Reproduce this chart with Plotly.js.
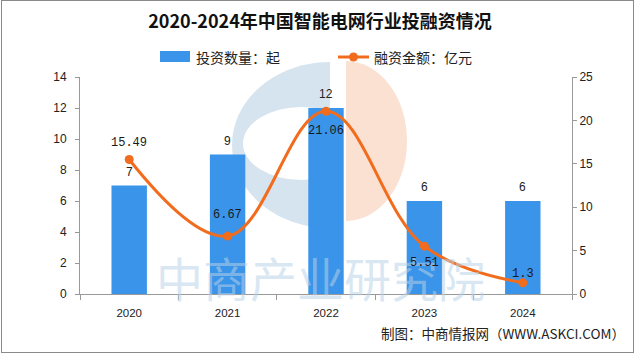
<!DOCTYPE html>
<html><head><meta charset="utf-8">
<script src="https://cdn.plot.ly/plotly-3.0.1.min.js"></script>
<style>
html,body{margin:0;padding:0;background:#fff;}
#wrap{position:relative;width:640px;height:355px;}
#chart{width:640px;height:355px;}
#frame{position:absolute;left:1px;top:0px;width:631px;height:351px;border:1.5px solid #8a8a8a;pointer-events:none;}
</style>
</head><body>
<div id="wrap"><div id="chart"></div><div id="frame"></div></div>
<script>
const years = ['2020','2021','2022','2023','2024'];
const dealCounts = [7, 9, 12, 6, 6];
const financing = [15.49, 6.67, 21.06, 5.51, 1.3];
const financingLabelShift = [17, 21, -20, -17, 9];
const titleText = '2020-2024年中国智能电网行业投融资情况';
const barName = '投资数量：起';
const lineName = '融资金额：亿元';
const footer = '制图：中商情报网（WWW.ASKCI.COM）';
const watermark = '中商产业研究院';

const L = 80, R = 572, T = 77, B = 294;
const px = x => (x - L) / (R - L);
const py = y => (B - y) / (B - T);
const k = 0.5523;
function halfEllipse(cx, cy, rx, ry, dir) {
  const s = dir;
  const P = (x, y) => px(x) + ',' + py(y);
  return 'M' + P(cx, cy - ry) +
    ' C' + P(cx + s * k * rx, cy - ry) + ' ' + P(cx + s * rx, cy - k * ry) + ' ' + P(cx + s * rx, cy) +
    ' C' + P(cx + s * rx, cy + k * ry) + ' ' + P(cx + s * k * rx, cy + ry) + ' ' + P(cx, cy + ry) + ' Z';
}

const mono = 'Liberation Mono, DejaVu Sans Mono, monospace';
const cjk = 'Noto Sans CJK SC, sans-serif';
const sans = 'Liberation Sans, Arial, sans-serif';
const BLUE = '#3a94e9', ORANGE = '#f26c1e';

const traces = [
  {
    type: 'bar', x: years, y: dealCounts, name: barName,
    marker: {color: BLUE}, width: 0.36, hoverinfo: 'skip'
  },
  {
    type: 'scatter', mode: 'lines+markers', x: years, y: financing, yaxis: 'y2', name: lineName,
    line: {color: ORANGE, width: 3, shape: 'spline', smoothing: 1.1},
    marker: {color: ORANGE, size: 9}, cliponaxis: false, hoverinfo: 'skip'
  }
];

const annotations = [
  {text: watermark, xref: 'paper', yref: 'paper', x: px(320), y: py(276), xanchor: 'center', yanchor: 'middle',
   showarrow: false, font: {family: cjk, size: 47, color: 'rgba(185,210,232,0.55)'}},
  {text: footer, xref: 'paper', yref: 'paper', x: px(627), y: py(333), xanchor: 'right', yanchor: 'middle',
   showarrow: false, font: {family: cjk, size: 13.5, color: '#222'}},
  {text: barName, xref: 'paper', yref: 'paper', x: px(194), y: py(57), xanchor: 'left', yanchor: 'middle',
   showarrow: false, font: {family: cjk, size: 14, color: '#222'}},
  {text: lineName, xref: 'paper', yref: 'paper', x: px(372), y: py(57), xanchor: 'left', yanchor: 'middle',
   showarrow: false, font: {family: cjk, size: 14, color: '#222'}}
];
years.forEach((yr, i) => {
  annotations.push({text: String(dealCounts[i]), xref: 'x', yref: 'y', x: i, y: dealCounts[i], yshift: 14,
    xanchor: 'center', yanchor: 'middle', showarrow: false, font: {family: sans, size: 12, color: '#222'}});
  annotations.push({text: String(financing[i]), xref: 'x', yref: 'y2', x: i, y: financing[i], yshift: financingLabelShift[i],
    xanchor: 'center', yanchor: 'middle', showarrow: false, font: {family: mono, size: 12, color: '#1a1a1a'}});
});

const layout = {
  width: 640, height: 355,
  margin: {l: L, r: 640 - R, t: T, b: 355 - B},
  paper_bgcolor: '#fff', plot_bgcolor: 'rgba(0,0,0,0)',
  showlegend: false,
  title: {text: '<b>' + titleText + '</b>', x: 0.5, xanchor: 'center', y: 1 - 22 / 355, yanchor: 'middle',
          font: {family: cjk, size: 18, color: '#111'}},
  xaxis: {type: 'category', range: [-0.5, years.length - 0.5], showline: true, linecolor: '#999', linewidth: 1,
          ticks: 'outside', tickson: 'boundaries',
          ticklen: 5, tickcolor: '#999', showgrid: false, zeroline: false, ticklabelstandoff: 8,
          tickfont: {family: sans, size: 11.5, color: '#222'}},
  yaxis: {range: [0, 14], dtick: 2, showline: true, linecolor: '#999', linewidth: 1, ticks: 'outside', ticklen: 4,
          tickcolor: '#999', showgrid: false, zeroline: false, ticklabelstandoff: 6,
          tickfont: {family: sans, size: 12, color: '#222'}},
  yaxis2: {range: [0, 25], dtick: 5, overlaying: 'y', side: 'right', showline: true, linecolor: '#999', linewidth: 1,
           ticks: 'outside', ticklen: 4, tickcolor: '#999', showgrid: false, zeroline: false,
           tickfont: {family: sans, size: 12, color: '#222'}},
  shapes: [
    {type: 'path', xref: 'paper', yref: 'paper', layer: 'below', line: {width: 0}, fillcolor: '#d6e4ef',
     path: halfEllipse(330, 145, 98, 83, -1)},
    {type: 'circle', xref: 'paper', yref: 'paper', layer: 'below', line: {width: 0}, fillcolor: '#ffffff',
     x0: px(243), x1: px(360), y0: py(180), y1: py(107)},
    {type: 'path', xref: 'paper', yref: 'paper', layer: 'below', line: {width: 0}, fillcolor: '#fbe1d2',
     path: halfEllipse(346, 141, 61, 80, 1)},
    {type: 'rect', xref: 'paper', yref: 'paper', line: {width: 0}, fillcolor: BLUE,
     x0: px(160), x1: px(190), y0: py(62), y1: py(51)},
    {type: 'line', xref: 'paper', yref: 'paper', line: {width: 3, color: ORANGE},
     x0: px(338), x1: px(369), y0: py(57), y1: py(57)},
    {type: 'circle', xref: 'paper', yref: 'paper', line: {width: 0}, fillcolor: ORANGE,
     x0: px(349), x1: px(358), y0: py(61.5), y1: py(52.5)}
  ],
  annotations: annotations
};

Plotly.newPlot('chart', traces, layout, {displayModeBar: false, staticPlot: true});
</script>
</body></html>
